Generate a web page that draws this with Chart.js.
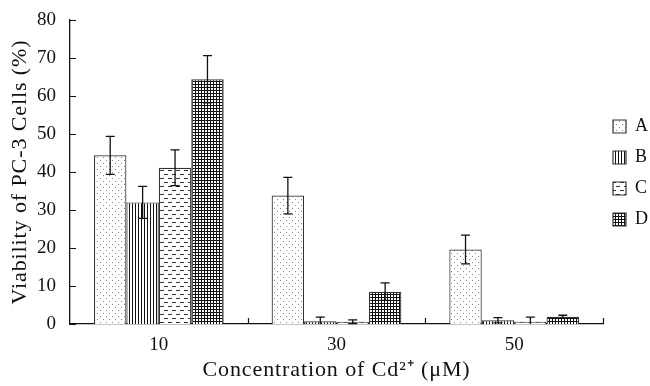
<!DOCTYPE html>
<html>
<head>
<meta charset="utf-8">
<script src="https://cdn.jsdelivr.net/npm/chart.js@4.4.0/dist/chart.umd.min.js"></script>
<style>
  html, body { margin: 0; padding: 0; background: #fff; }
  #wrap { width: 650px; height: 386px; }
</style>
</head>
<body>
<div id="wrap"><canvas id="chart" width="650" height="386"></canvas></div>
<script>
// Data
const concentrations = ["10", "30", "50"];
const seriesNames = ["A", "B", "C", "D"];
const valuesA = [44.4, 33.8, 19.6];
const valuesB = [32.0, 0.7, 1.0];
const valuesC = [41.1, 0.6, 0.6];
const valuesD = [64.4, 8.5, 1.9];
const errorsA = [5.0, 4.8, 3.8];
const errorsB = [4.2, 1.1, 0.7];
const errorsC = [4.7, 0.5, 1.2];
const errorsD = [6.2, 2.3, 0.4];
const yTicks = [0, 10, 20, 30, 40, 50, 60, 70, 80];

const serif = "'Liberation Serif', 'Times New Roman', serif";

// small tiles turned into fill patterns
function makePattern(w, h, draw) {
    const c = document.createElement("canvas");
    c.width = w; c.height = h;
    const g = c.getContext("2d");
    g.fillStyle = "#fff";
    g.fillRect(0, 0, w, h);
    draw(g);
    return g.createPattern(c, "repeat");
}

const dots = makePattern(6, 6, function(g) {
    g.fillStyle = "#888";
    g.fillRect(1, 1, 1, 1);
    g.fillRect(4, 4, 1, 1);
});
const vlines = makePattern(3, 1, function(g) {
    g.fillStyle = "#111";
    g.fillRect(0, 0, 1, 1);
});
const dashes = makePattern(8, 8, function(g) {
    g.fillStyle = "#333";
    g.fillRect(0, 2, 4, 1);
    g.fillRect(4, 6, 4, 1);
});
const grid = makePattern(3, 3, function(g) {
    g.fillStyle = "#111";
    g.fillRect(0, 0, 3, 1);
    g.fillRect(0, 0, 1, 3);
});

const allValues = [valuesA, valuesB, valuesC, valuesD];
const allErrors = [errorsA, errorsB, errorsC, errorsD];
const fills = [dots, vlines, dashes, grid];

const datasets = seriesNames.map(function(name, i) {
    return {
        label: name,
        data: allValues[i],
        errors: allErrors[i],
        backgroundColor: fills[i],
        borderColor: "#333",
        borderWidth: 1.2
    };
});

// error bars with caps, drawn from the bar elements and y scale
const errorBars = {
    id: "errorBars",
    afterDatasetsDraw(chart) {
        const ctx = chart.ctx;
        const y = chart.scales.y;
        ctx.save();
        ctx.strokeStyle = "#111";
        ctx.lineWidth = 1.3;
        chart.data.datasets.forEach(function(ds, di) {
            const meta = chart.getDatasetMeta(di);
            meta.data.forEach(function(bar, i) {
                const v = ds.data[i], e = ds.errors[i];
                const top = y.getPixelForValue(v + e);
                const bot = y.getPixelForValue(Math.max(v - e, 0));
                ctx.beginPath();
                ctx.moveTo(bar.x, top); ctx.lineTo(bar.x, bot);
                ctx.moveTo(bar.x - 4.5, top); ctx.lineTo(bar.x + 4.5, top);
                if (v - e > 0) { ctx.moveTo(bar.x - 4.5, bot); ctx.lineTo(bar.x + 4.5, bot); }
                ctx.stroke();
            });
        });
        ctx.restore();
    }
};

// tick marks pointing into the plot, as in the original figure
const innerTicks = {
    id: "innerTicks",
    afterDraw(chart) {
        const ctx = chart.ctx;
        const x = chart.scales.x, y = chart.scales.y;
        const area = chart.chartArea;
        ctx.save();
        ctx.strokeStyle = "#111";
        ctx.lineWidth = 1.2;
        ctx.beginPath();
        yTicks.forEach(function(t) {
            const py = Math.round(y.getPixelForValue(t)) + 0.5;
            ctx.moveTo(area.left, py); ctx.lineTo(area.left + 6, py);
        });
        const half = (x.getPixelForValue(1) - x.getPixelForValue(0)) / 2;
        for (let i = 0; i < concentrations.length; i++) {
            const px = Math.round(x.getPixelForValue(i) + half) + 0.5;
            ctx.moveTo(px, area.bottom); ctx.lineTo(px, area.bottom - 6);
        }
        ctx.stroke();
        ctx.restore();
    }
};

// the original axis titles are set a bit wide; spread them slightly
// and place the legend block beside the middle of the plot
const titleSpacing = {
    id: "titleSpacing",
    afterLayout(chart) {
        chart.legend.bottom -= 60;
        chart.legend.left -= 3;
        ["x", "y"].forEach(function(id) {
            const s = chart.scales[id];
            if (s._wideTitle) return;
            const orig = s.drawTitle;
            s.drawTitle = function() {
                const ctx = this.ctx;
                ctx.save();
                ctx.letterSpacing = "0.9px";
                orig.apply(this, arguments);
                ctx.restore();
            };
            s._wideTitle = true;
        });
    }
};

new Chart(document.getElementById("chart"), {
    type: "bar",
    data: { labels: concentrations, datasets: datasets },
    options: {
        responsive: false,
        animation: false,
        layout: { padding: { top: 20, right: 0, left: 0, bottom: 0 } },
        datasets: { bar: { categoryPercentage: 0.73, barPercentage: 1.0 } },
        plugins: {
            tooltip: { enabled: false },
            legend: {
                position: "right",
                maxWidth: 47,
                labels: {
                    font: { family: serif, size: 18 },
                    color: "#111",
                    boxWidth: 13,
                    boxHeight: 13,
                    padding: 13
                }
            }
        },
        scales: {
            x: {
                grid: { display: false },
                border: { display: true, color: "#111", width: 1.3 },
                ticks: { font: { family: serif, size: 19 }, color: "#111", padding: 2 },
                title: {
                    display: true,
                    text: "Concentration of Cd\u00B2\u207A (\u03BCM)",
                    font: { family: serif, size: 22 },
                    color: "#111",
                    padding: { top: 0, bottom: 3 }
                },
                afterFit(scale) { scale.height = 62; }
            },
            y: {
                min: 0,
                max: 80,
                grid: { display: false },
                border: { display: true, color: "#111", width: 1.3 },
                ticks: { stepSize: 10, font: { family: serif, size: 19 }, color: "#111", padding: 6 },
                title: {
                    display: true,
                    text: "Viability of PC-3 Cells (%)",
                    font: { family: serif, size: 22 },
                    color: "#111",
                    padding: { top: 7, bottom: 0 }
                },
                afterFit(scale) { scale.width = 70; }
            }
        }
    },
    plugins: [errorBars, innerTicks, titleSpacing]
});
</script>
</body>
</html>
